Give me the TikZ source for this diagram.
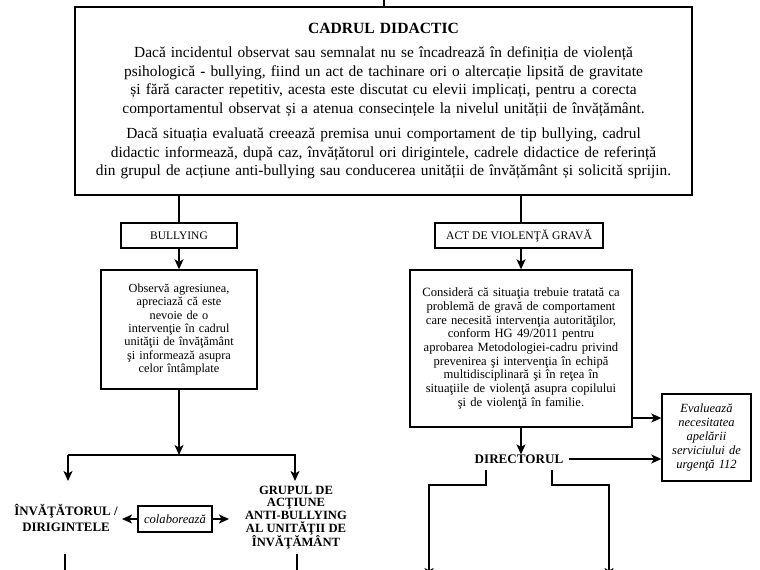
\documentclass[tikz,border=0pt]{standalone}
\usepackage{fontspec}
\setmainfont{Liberation Serif}
\usetikzlibrary{arrows.meta,calc}
\begin{document}
\begin{tikzpicture}[x=1pt,y=-1pt,
  line width=1.4pt,
  >={Stealth[length=10pt,width=9pt,inset=2.5pt]},
  boxx/.style={draw,rectangle,inner sep=0pt,align=center},
  lbl/.style={inner sep=0pt,align=center}]
\useasboundingbox (0,0) rectangle (760,570);
\clip (0,0) rectangle (760,570);
% main box
\node[boxx,minimum width=617pt,minimum height=188pt,text width=612pt,
  font=\fontsize{15.4}{18.5}\selectfont] (main) at (383.5,101)
  {{\fontsize{15.6}{18.5}\selectfont\textbf{CADRUL DIDACTIC}}\\[6pt]
   Dacă incidentul observat sau semnalat nu se încadrează în definiția de violență\\
   psihologică - bullying, fiind un act de tachinare ori o altercație lipsită de gravitate\\
   și fără caracter repetitiv, acesta este discutat cu elevii implicați, pentru a corecta\\
   comportamentul observat și a atenua consecințele la nivelul unității de învățământ.\\[7pt]
   Dacă situația evaluată creează premisa unui comportament de tip bullying, cadrul\\
   didactic informează, după caz, învățătorul ori dirigintele, cadrele didactice de referință\\
   din grupul de acțiune anti-bullying sau conducerea unității de învățământ și solicită sprijin.};
\coordinate (topin) at (384,0);
\draw (topin) -- (topin |- main.north);
% left branch
\node[boxx,minimum width=116pt,minimum height=25pt,font=\fontsize{11.5}{12}\selectfont] (bul) at (179,235.5) {BULLYING};
\node[boxx,minimum width=156pt,minimum height=119pt,text width=152pt,font=\fontsize{12.3}{13.3}\selectfont] (obs) at (179,329.5)
  {Observă agresiunea,\\ apreciază că este\\ nevoie de o\\ intervenţie în cadrul\\ unităţii de învăţământ\\ şi informează asupra\\ celor întâmplate};
\draw (main.south -| bul) -- (bul.north);
\draw[->] (bul.south) -- (obs.north);
\coordinate (jn) at (179,455);
\coordinate (jl) at (68,455);
\coordinate (jr) at (295,455);
\coordinate (al) at (68,481);
\coordinate (ar) at (295,481);
\draw[->] (obs.south) -- (jn);
\draw[->] (jl) -- (al);
\draw[->] (jl) -- (jr) -- (ar);
\node[lbl,font=\bfseries\fontsize{12.9}{16.5}\selectfont] (inv) at (66,518) {ÎNVĂŢĂTORUL /\\ DIRIGINTELE};
\node[lbl,font=\bfseries\fontsize{12.6}{12.6}\selectfont] (grup) at (296,517.5) {GRUPUL DE\\ ACŢIUNE\\ ANTI-BULLYING\\ AL UNITĂŢII DE\\ ÎNVĂŢĂMÂNT};
\node[boxx,minimum width=74pt,minimum height=26pt,font=\itshape\fontsize{12.6}{14}\selectfont] (col) at (175,519) {colaborează};
\coordinate (cl) at (122,519);
\coordinate (cr) at (229,519);
\draw[->] (col.west) -- (cl);
\draw[->] (col.east) -- (cr);
\coordinate (bl1) at (65,554);
\coordinate (bl2) at (65,575);
\coordinate (br1) at (297,554);
\coordinate (br2) at (297,575);
\draw (bl1) -- (bl2);
\draw (br1) -- (br2);
% right branch
\node[boxx,minimum width=168pt,minimum height=25pt,font=\fontsize{11.6}{12}\selectfont] (act) at (519,235.5) {ACT DE VIOLENŢĂ GRAVĂ};
\node[boxx,minimum width=222pt,minimum height=157pt,text width=218pt,font=\fontsize{12.6}{13.7}\selectfont] (cons) at (521,348.5)
  {Consideră că situaţia trebuie tratată ca\\ problemă de gravă de comportament\\ care necesită intervenţia autorităţilor,\\ conform HG 49/2011 pentru\\ aprobarea Metodologiei-cadru privind\\ prevenirea şi intervenţia în echipă\\ multidisciplinară şi în reţea în\\ situaţiile de violenţă asupra copilului\\ şi de violenţă în familie.};
\draw (main.south -| cons) -- (cons.north |- act.north);
\draw[->] (act.south -| cons) -- (cons.north);
\node[boxx,minimum width=89pt,minimum height=87pt,text width=87pt,font=\itshape\fontsize{12.5}{14.2}\selectfont] (eval) at (706.5,437.5)
  {Evaluează\\ necesitatea\\ apelării\\ serviciului de\\ urgenţă 112};
\node[lbl,font=\bfseries\fontsize{13.1}{14}\selectfont] (dir) at (519,459.5) {DIRECTORUL};
\draw[->] (cons.south) -- (cons.south |- dir.north);
\draw[->] (cons.east |- 0,418) -- (eval.west |- 0,418);
\coordinate (ds) at (569,459);
\draw[->] (ds) -- (eval.west |- ds);
\coordinate (d1) at (486,470);
\coordinate (d1b) at (486,485);
\coordinate (d1c) at (429,485);
\coordinate (d1d) at (429,578);
\coordinate (d2) at (552,470);
\coordinate (d2b) at (552,485);
\coordinate (d2c) at (609,485);
\coordinate (d2d) at (609,578);
\draw[->] (d1) -- (d1b) -- (d1c) -- (d1d);
\draw[->] (d2) -- (d2b) -- (d2c) -- (d2d);
\end{tikzpicture}
\end{document}
